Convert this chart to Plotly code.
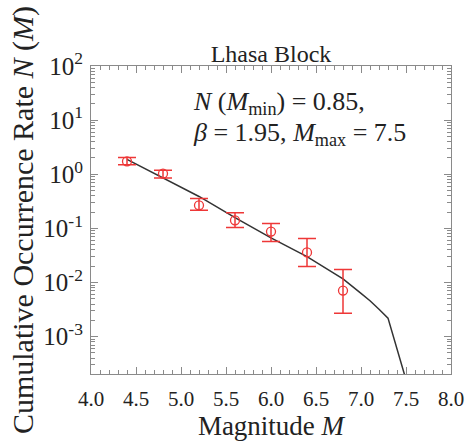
import plotly.graph_objects as go

# Observed data (magnitude bins, cumulative rate, error bar ends)
mag_obs = [4.4, 4.8, 5.2, 5.6, 6.0, 6.4, 6.8]
rate_obs = [1.73, 1.03, 0.267, 0.141, 0.0875, 0.036, 0.0071]
rate_hi = [2.05, 1.18, 0.358, 0.195, 0.123, 0.065, 0.0174]
rate_lo = [1.50, 0.855, 0.216, 0.104, 0.057, 0.0197, 0.0027]

# Fitted truncated G-R curve
mag_fit = [4.4, 4.8, 5.2, 5.6, 6.0, 6.4, 6.8, 7.0, 7.1, 7.2, 7.3, 7.5]
rate_fit = [1.89, 0.863, 0.389, 0.158, 0.0667, 0.030, 0.0117, 0.0063, 0.0046, 0.0032, 0.0022, 0.00016]

ytick_vals = [1e-3, 1e-2, 1e-1, 1, 10, 100]
ytick_text = ["10<sup>-3</sup>", "10<sup>-2</sup>", "10<sup>-1</sup>",
              "10<sup>0</sup>", "10<sup>1</sup>", "10<sup>2</sup>"]
xtick_vals = [4.0, 4.5, 5.0, 5.5, 6.0, 6.5, 7.0, 7.5, 8.0]
xtick_text = ["4.0", "4.5", "5.0", "5.5", "6.0", "6.5", "7.0", "7.5", "8.0"]
y_minor_vals = [m * 10.0 ** e for e in range(-4, 2) for m in range(2, 10)]

red = "rgb(238,55,55)"
serif = "Liberation Serif"
ink = "#222222"
axis_grey = "#8a8a8a"

# plot area in pixels
L, R, T, B = 91, 451, 66, 374
W, H = 471, 443

fig = go.Figure()
fig.add_trace(go.Scatter(
    x=mag_fit, y=rate_fit, mode="lines",
    line=dict(color="#333333", width=1.5), showlegend=False))
fig.add_trace(go.Scatter(
    x=mag_obs, y=rate_obs, mode="markers",
    marker=dict(symbol="circle-open", size=9, color=red, line=dict(width=1.3, color=red)),
    error_y=dict(type="data", symmetric=False,
                 array=[h - v for h, v in zip(rate_hi, rate_obs)],
                 arrayminus=[v - l for l, v in zip(rate_lo, rate_obs)],
                 color=red, thickness=1.5, width=9),
    showlegend=False))

ann_lines = [
    ("<i>N</i> (<i>M</i><sub>min</sub>) = 0.85,", 103),
    ("<i>β</i> = 1.95, <i>M</i><sub>max</sub> = 7.5", 134),
]
for txt, ypx in ann_lines:
    fig.add_annotation(
        x=(192 - L) / (R - L), y=1 - (ypx - T) / (B - T), xref="paper", yref="paper",
        showarrow=False, text=txt, align="left", xanchor="left", yanchor="middle",
        borderpad=0, font=dict(family=serif, size=26, color=ink))

fig.update_layout(
    width=W, height=H,
    margin=dict(l=L, r=W - R, t=T, b=H - B, autoexpand=False),
    paper_bgcolor="white", plot_bgcolor="white",
    font=dict(family=serif, color=ink),
    title=dict(text="Lhasa Block", x=(L + R) / 2 / W, xanchor="center",
               y=1 - 54 / H, yanchor="middle", yref="container",
               font=dict(family=serif, size=24, color=ink)),
    xaxis=dict(range=[4.0, 8.0], tickvals=xtick_vals, ticktext=xtick_text,
               ticks="inside", ticklen=7, tickcolor=axis_grey, showline=True,
               linecolor=axis_grey, linewidth=1.2, mirror="ticks", showgrid=False,
               zeroline=False, tickfont=dict(family=serif, size=21, color=ink),
               ticklabelstandoff=6,
               minor=dict(dtick=0.1, ticks="inside", ticklen=3.5, tickcolor=axis_grey),
               title=dict(text="Magnitude <i>M</i>", standoff=0,
                          font=dict(family=serif, size=27, color=ink))),
    yaxis=dict(type="log", range=[-3.69, 2], tickvals=ytick_vals, ticktext=ytick_text,
               ticks="inside", ticklen=7, tickcolor=axis_grey, showline=True,
               linecolor=axis_grey, linewidth=1.2, mirror="ticks", showgrid=False,
               zeroline=False, tickfont=dict(family=serif, size=25, color=ink),
               ticklabelstandoff=2,
               minor=dict(tickmode="array", tickvals=y_minor_vals, ticks="inside",
                          ticklen=3.5, tickcolor=axis_grey),
               title=dict(text="Cumulative Occurrence Rate <i>N</i> (<i>M</i>)", standoff=0,
                          font=dict(family=serif, size=30, color=ink))),
)

fig.write_html("out.html", config={"displayModeBar": False},
               post_script="document.body.style.margin='0';document.body.style.padding='0';")
